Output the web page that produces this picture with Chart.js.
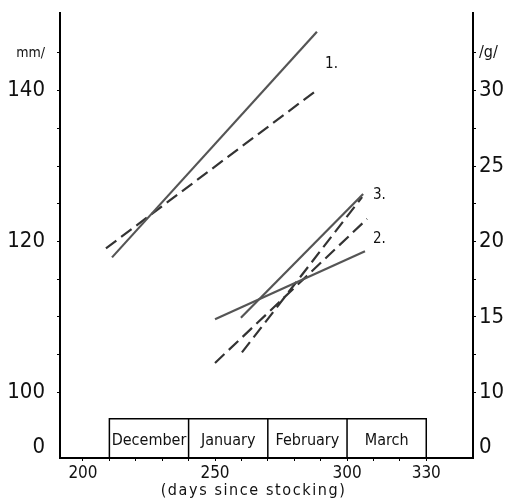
<!DOCTYPE html>
<html>
<head>
<meta charset="utf-8">
<script src="https://cdn.jsdelivr.net/npm/chart.js@4.4.0/dist/chart.umd.min.js"></script>
<style>
html, body { margin: 0; padding: 0; background: #fff; }
#wrap { width: 514px; height: 499px; }
</style>
</head>
<body>
<div id="wrap"><canvas id="chart"></canvas></div>
<script>
// Values. x = days since stocking.
// Solid lines: length (mm, left axis). Dashed lines: weight (g, right axis).
const solid1 = [{x: 211, y: 117.9}, {x: 288.6, y: 147.8}];
const solid2 = [{x: 250, y: 109.7}, {x: 306.8, y: 118.7}];
const solid3 = [{x: 259.8, y: 109.9}, {x: 306.1, y: 126.3}];
const dashed1 = [{x: 208.7, y: 19.55}, {x: 288.3, y: 30.0}];
const dashed2 = [{x: 250, y: 11.95}, {x: 307.6, y: 21.5}];
const dashed3 = [{x: 260.2, y: 12.65}, {x: 305.7, y: 22.95}];

// Curve numbers (left edge x in days, y in mm)
const curveLabels = [
    {text: '1.', x: 291.7, y: 143.5},
    {text: '3.', x: 309.8, y: 126.2},
    {text: '2.', x: 309.8, y: 120.3}
];

// Month strip along the bottom
const months = ['December', 'January', 'February', 'March'];
const monthEdges = [210, 240, 270, 300, 330];
const monthBoxTop = 96.5; // mm

// Axis ticks
const xTicks = [200, 210, 220, 230, 240, 250, 260, 270, 280, 290, 300, 310, 320, 330];
const xLabels = [200, 250, 300, 330];
const xTitle = '(days since stocking)';
const xTitleCentre = 264.6; // days
const mmTicks = [92.7, 100, 105, 110, 115, 120, 125, 130, 135, 140, 145];
const mmLabels = {92.7: '0', 100: '100', 120: '120', 140: '140', 145: 'mm/'};
const gTicks = [6.35, 10, 12.5, 15, 17.5, 20, 22.5, 25, 27.5, 30, 32.5];
const gLabels = {6.35: '0', 10: '10', 15: '15', 20: '20', 25: '25', 30: '30', 32.5: '/g/'};

const FONT = "'Liberation Sans Narrow', 'DejaVu Sans Condensed', sans-serif";
const INK = '#111';

function lineSet(data, axis, dashed) {
    return {
        data: data,
        yAxisID: axis,
        borderColor: dashed ? '#333' : '#555',
        borderWidth: 2.2,
        borderDash: dashed ? [13, 6] : [],
        pointRadius: 0,
        tension: 0,
        fill: false
    };
}

function noPadding(s) {
    s.paddingTop = 0;
    s.paddingBottom = 0;
    s.paddingLeft = 0;
    s.paddingRight = 0;
}

const stripPlugin = {
    id: 'strip',
    afterDraw(chart) {
        const ctx = chart.ctx;
        const x = chart.scales.x;
        const y = chart.scales.y;
        const top = y.getPixelForValue(monthBoxTop);
        const bottom = chart.chartArea.bottom;
        ctx.save();
        ctx.strokeStyle = '#000';
        ctx.lineWidth = 1.5;
        ctx.beginPath();
        ctx.moveTo(x.getPixelForValue(monthEdges[0]), bottom);
        ctx.lineTo(x.getPixelForValue(monthEdges[0]), top);
        ctx.lineTo(x.getPixelForValue(monthEdges[monthEdges.length - 1]), top);
        ctx.lineTo(x.getPixelForValue(monthEdges[monthEdges.length - 1]), bottom);
        for (let i = 1; i < monthEdges.length - 1; i++) {
            ctx.moveTo(x.getPixelForValue(monthEdges[i]), top);
            ctx.lineTo(x.getPixelForValue(monthEdges[i]), bottom);
        }
        ctx.stroke();

        ctx.fillStyle = INK;
        ctx.font = '16px ' + FONT;
        ctx.textAlign = 'center';
        ctx.textBaseline = 'middle';
        months.forEach(function(m, i) {
            const cx = (x.getPixelForValue(monthEdges[i]) + x.getPixelForValue(monthEdges[i + 1])) / 2;
            ctx.fillText(m, cx, (top + bottom) / 2 + 2);
        });

        ctx.font = '15px ' + FONT;
        ctx.textAlign = 'left';
        curveLabels.forEach(function(l) {
            ctx.fillText(l.text, x.getPixelForValue(l.x), y.getPixelForValue(l.y));
        });

        // axis title, letter-spaced like the original lettering
        ctx.font = "16px 'DejaVu Sans Condensed', sans-serif";
        ctx.textAlign = 'center';
        ctx.letterSpacing = '1.6px';
        ctx.fillText(xTitle, x.getPixelForValue(xTitleCentre), bottom + 33);
        ctx.restore();
    }
};

const ctx = document.getElementById('chart').getContext('2d');
new Chart(ctx, {
    type: 'line',
    data: {
        datasets: [
            lineSet(solid1, 'y', false),
            lineSet(dashed1, 'y2', true),
            lineSet(solid2, 'y', false),
            lineSet(dashed2, 'y2', true),
            lineSet(solid3, 'y', false),
            lineSet(dashed3, 'y2', true)
        ]
    },
    options: {
        responsive: true,
        maintainAspectRatio: false,
        animation: false,
        layout: { padding: { top: 13, left: 0, right: 0, bottom: 0 } },
        plugins: {
            legend: { display: false },
            tooltip: { enabled: false }
        },
        scales: {
            x: {
                type: 'linear',
                min: 191.3,
                max: 347.7,
                afterBuildTicks: function(s) { s.ticks = xTicks.map(v => ({value: v})); },
                afterFit: function(s) { s.height = 41; noPadding(s); },
                border: { color: '#000', width: 2 },
                grid: { drawOnChartArea: false, tickLength: 3, tickColor: '#000' },
                ticks: {
                    autoSkip: false,
                    maxRotation: 0,
                    padding: 2,
                    color: INK,
                    font: { family: FONT, size: 17 },
                    callback: v => xLabels.includes(v) ? String(v) : ''
                }
            },
            y: {
                type: 'linear',
                position: 'left',
                min: 91.3,
                max: 150.3,
                afterBuildTicks: function(s) { s.ticks = mmTicks.map(v => ({value: v})); },
                afterFit: function(s) { s.width = 60; noPadding(s); },
                border: { color: '#000', width: 2 },
                grid: {
                    drawOnChartArea: false,
                    tickLength: 3,
                    tickColor: c => (c.tick && c.tick.value === 92.7) ? 'rgba(0,0,0,0)' : '#000'
                },
                ticks: {
                    autoSkip: false,
                    padding: 12,
                    color: INK,
                    font: c => (c.tick && c.tick.value === 145) ? {family: FONT, size: 14} : {family: FONT, size: 22},
                    callback: v => mmLabels[v] || ''
                }
            },
            y2: {
                type: 'linear',
                position: 'right',
                min: 5.65,
                max: 35.15,
                afterBuildTicks: function(s) { s.ticks = gTicks.map(v => ({value: v})); },
                afterFit: function(s) { s.width = 41; noPadding(s); },
                border: { color: '#000', width: 2 },
                grid: {
                    drawOnChartArea: false,
                    tickLength: 3,
                    tickColor: c => (c.tick && c.tick.value === 6.35) ? 'rgba(0,0,0,0)' : '#000'
                },
                ticks: {
                    autoSkip: false,
                    padding: 3,
                    color: INK,
                    font: c => (c.tick && c.tick.value === 32.5) ? {family: FONT, size: 16} : {family: FONT, size: 22},
                    callback: v => gLabels[v] || ''
                }
            }
        }
    },
    plugins: [stripPlugin]
});
</script>
</body>
</html>
